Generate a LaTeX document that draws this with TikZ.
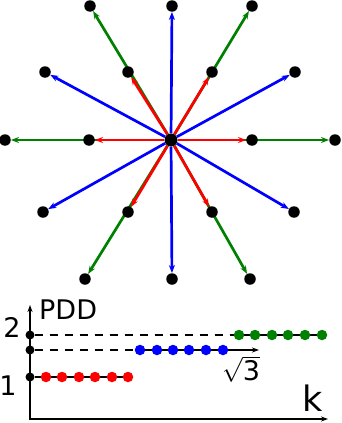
\documentclass[tikz,border=0pt]{standalone}
\usepackage{fontspec}
\setmainfont{DejaVu Sans}
\usetikzlibrary{arrows.meta,backgrounds}
\definecolor{pddred}{HTML}{FF0000}
\definecolor{pddblue}{HTML}{0000FF}
\definecolor{pddgreen}{HTML}{008000}
\tikzset{site/.style={circle,fill=black,inner sep=0pt,minimum size=11.5pt}, pt/.style={circle,inner sep=0pt,minimum size=10.5pt}, tick/.style={circle,fill=black,inner sep=0pt,minimum size=9pt}, vec/.style={-{Stealth[length=8pt,width=6pt]},line width=2.7pt}, ax/.style={line width=1.8pt}, lab/.style={inner sep=0pt,font=\fontsize{27}{30}\selectfont}}
\begin{document}
\begin{tikzpicture}[x=1pt,y=-1pt]
\useasboundingbox(0,0)rectangle(341,423);
\node[site,minimum size=13pt](o)at(171,140){};
\node[site](r1)at(252,140){};\node[site](r2)at(212,72){};\node[site](r3)at(128,72){};\node[site](r4)at(89,140){};\node[site](r5)at(128,212){};\node[site](r6)at(212,212){};
\node[site](b1)at(172,6){};\node[site](b2)at(295,72){};\node[site](b3)at(45,72){};\node[site](b4)at(43,212){};\node[site](b5)at(172,279){};\node[site](b6)at(294,212){};
\node[site](g1)at(335,140){};\node[site](g2)at(252,6){};\node[site](g3)at(90,6){};\node[site](g4)at(5,140){};\node[site](g5)at(85,279){};\node[site](g6)at(250,279){};
\begin{pgfonlayer}{background}
\draw[vec,pddgreen](o)--(g1);\draw[vec,pddgreen](o)--(g2);\draw[vec,pddgreen](o)--(g3);\draw[vec,pddgreen](o)--(g4);\draw[vec,pddgreen](o)--(g5);\draw[vec,pddgreen](o)--(g6);
\draw[vec,pddblue](o)--(b1);\draw[vec,pddblue](o)--(b2);\draw[vec,pddblue](o)--(b3);\draw[vec,pddblue](o)--(b4);\draw[vec,pddblue](o)--(b5);\draw[vec,pddblue](o)--(b6);
\draw[vec,pddred](o)--(r1);\draw[vec,pddred](o)--(r2);\draw[vec,pddred](o)--(r3);\draw[vec,pddred](o)--(r4);\draw[vec,pddred](o)--(r5);\draw[vec,pddred](o)--(r6);
\end{pgfonlayer}
\coordinate(ax0)at(30,419);\coordinate(ytop)at(30,305);\coordinate(xend)at(328,419);\coordinate(sq)at(259,350);
\draw[ax,{Stealth[length=7pt,width=5pt]}-{Stealth[length=7pt,width=5pt]}](ytop)--(ax0)--(xend);
\node[tick](t1)at(30,377){};\node[tick](t3)at(30,350){};\node[tick](t2)at(30,335){};
\node[pt,fill=pddred](k1)at(46,377){};\node[pt,fill=pddred](k2)at(62,377){};\node[pt,fill=pddred](k3)at(79,377){};\node[pt,fill=pddred](k4)at(95,377){};\node[pt,fill=pddred](k5)at(112,377){};\node[pt,fill=pddred](k6)at(128,377){};
\node[pt,fill=pddblue](s1)at(140,350){};\node[pt,fill=pddblue](s2)at(157,350){};\node[pt,fill=pddblue](s3)at(173,350){};\node[pt,fill=pddblue](s4)at(189,350){};\node[pt,fill=pddblue](s5)at(206,350){};\node[pt,fill=pddblue](s6)at(223,350){};
\node[pt,fill=pddgreen](q1)at(239,335){};\node[pt,fill=pddgreen](q2)at(255,335){};\node[pt,fill=pddgreen](q3)at(272,335){};\node[pt,fill=pddgreen](q4)at(288,335){};\node[pt,fill=pddgreen](q5)at(305,335){};\node[pt,fill=pddgreen](q6)at(322,335){};
\begin{pgfonlayer}{background}
\draw[ax](t1)--(k6);\draw[ax,dash pattern=on 8pt off 7pt](t3)--(s1);\draw[ax,dash pattern=on 8pt off 7pt](t2)--(q1);\draw[ax](q1)--(q6);
\draw[ax,-{Stealth[length=7pt,width=5pt]}](s1)--(sq);
\end{pgfonlayer}
\node[lab,anchor=west](pdd)at(39,310){PDD};\node[lab](l2)at(12,327){2};\node[lab](l1)at(8,386){1};
\node[lab](lr3)at(241,369){$\sqrt{\hbox{3}}$};\node[lab,font=\fontsize{35}{40}\selectfont](lk)at(313,398){k};
\end{tikzpicture}
\end{document}
